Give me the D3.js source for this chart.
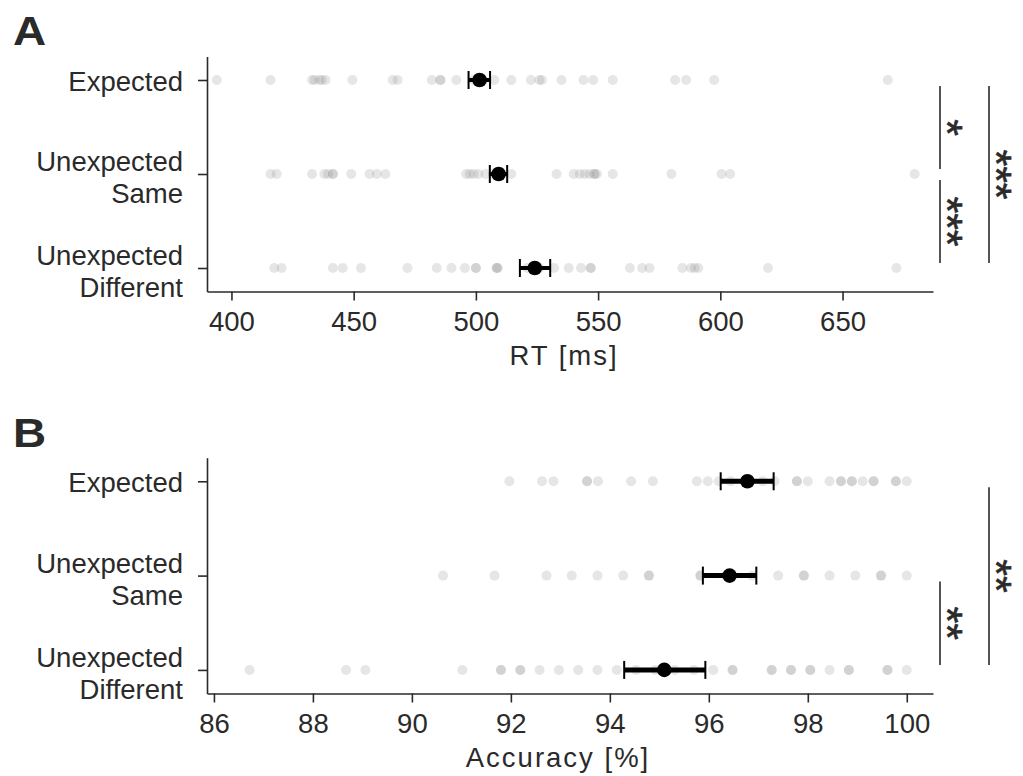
<!DOCTYPE html>
<html>
<head>
<meta charset="utf-8">
<script src="https://cdn.jsdelivr.net/npm/d3@7"></script>
<style>
  html, body { margin: 0; padding: 0; background: #fff; }
  svg { display: block; font-family: "Liberation Sans", Arial, Helvetica, sans-serif; }
</style>
</head>
<body>
<svg id="chart" width="1023" height="776"></svg>
<script>
// ---------------- data ----------------
const categories = [["Expected"], ["Unexpected", "Same"], ["Unexpected", "Different"]];

const rtExpected = [394, 416, 433, 434, 436, 437, 438.5, 449.5, 466, 468, 482, 485.5, 485.5, 492, 499, 503, 507.5, 514.5, 522.5, 526, 527, 535, 544, 548, 556, 581.5, 586, 597.5, 668.5];
const rtSame = [416, 418.5, 433, 438, 439.5, 441.5, 441.5, 449, 456.5, 459.5, 463, 496, 497.5, 499, 501, 504, 507, 514.5, 533, 540, 542.5, 544.5, 546.5, 548.5, 548.5, 549.5, 556, 580, 600.5, 604, 679.5];
const rtDifferent = [417.5, 420.5, 441.5, 445.5, 453, 472, 484, 490, 495.5, 500, 500, 508.5, 508.5, 509, 521, 526, 532, 538, 543, 547, 547, 563, 568, 571, 584.5, 588, 589.5, 591, 619.5, 672];

const rtMean = [501.5, 509.3, 524.1];
const rtLow = [497, 505.7, 518];
const rtHigh = [505.8, 512.8, 530.4];

const accExpected = [91.97, 92.63, 92.86, 93.54, 93.54, 93.76, 94.43, 94.87, 95.76, 95.98, 96.2, 96.44, 97.09, 97.33, 97.78, 97.78, 98.0, 98.44, 98.67, 98.67, 98.89, 98.89, 99.11, 99.33, 99.33, 99.78, 99.78, 100];
const accSame = [90.63, 91.67, 92.72, 93.23, 93.75, 94.27, 94.79, 94.79, 95.83, 95.83, 96.35, 96.88, 97.4, 97.92, 97.92, 98.44, 98.96, 99.48, 99.48, 100];
const accDifferent = [86.72, 88.67, 89.06, 91.02, 91.8, 91.8, 92.19, 92.19, 92.58, 92.97, 93.36, 93.75, 94.14, 94.53, 94.92, 95.31, 95.7, 96.09, 96.48, 96.48, 97.27, 97.27, 97.66, 97.66, 98.05, 98.05, 98.44, 98.83, 98.83, 99.61, 99.61, 100];

const accMean = [96.78, 96.42, 95.1];
const accLow = [96.24, 95.88, 94.29];
const accHigh = [97.31, 96.96, 95.93];

const rtTicks = [400, 450, 500, 550, 600, 650];
const accTicks = [86, 88, 90, 92, 94, 96, 98, 100];

const rtSig = [
  { from: 0, to: 1, label: "*", level: 0 },
  { from: 1, to: 2, label: "***", level: 0 },
  { from: 0, to: 2, label: "***", level: 1 }
];
const accSig = [
  { from: 1, to: 2, label: "**", level: 0 },
  { from: 0, to: 2, label: "**", level: 1 }
];

// ---------------- drawing ----------------
const svg = d3.select("#chart");
const ink = "#2a2a2a";

function panel(cfg) {
  const g = svg.append("g");
  const x = d3.scaleLinear().domain(cfg.xDomain).range([207, 933]);
  const y = d3.scaleLinear().domain([-0.25, 2.25]).range([cfg.top, cfg.bottom]);

  // points
  cfg.series.forEach((vals, i) => {
    g.append("g").selectAll("circle").data(vals).join("circle")
      .attr("cx", d => x(d)).attr("cy", y(i)).attr("r", 5)
      .attr("fill", "#808080").attr("fill-opacity", 0.2);
  });

  // error bars + means
  cfg.mean.forEach((m, i) => {
    const eg = g.append("g");
    eg.append("line").attr("x1", x(cfg.low[i])).attr("x2", x(cfg.high[i]))
      .attr("y1", y(i)).attr("y2", y(i)).attr("stroke", "#000").attr("stroke-width", cfg.barW);
    [cfg.low[i], cfg.high[i]].forEach(v => {
      eg.append("line").attr("x1", x(v)).attr("x2", x(v))
        .attr("y1", y(i) - 9).attr("y2", y(i) + 9).attr("stroke", "#000").attr("stroke-width", 2);
    });
    eg.append("circle").attr("cx", x(m)).attr("cy", y(i)).attr("r", 7.3).attr("fill", "#000");
  });

  // x axis
  const xa = g.append("g").attr("transform", `translate(0,${cfg.bottom})`)
    .call(d3.axisBottom(x).tickValues(cfg.ticks).tickFormat(d3.format("d")).tickSize(9).tickSizeOuter(0).tickPadding(11));
  xa.selectAll("text").attr("font-size", 27.5).attr("fill", ink);

  // y axis
  const ya = g.append("g").attr("transform", "translate(207,0)")
    .call(d3.axisLeft(y).tickValues([0, 1, 2]).tickFormat("").tickSize(9).tickSizeOuter(0));
  [xa, ya].forEach(a => {
    a.select(".domain").attr("stroke", ink).attr("stroke-width", 1.6);
    a.selectAll(".tick line").attr("stroke", ink).attr("stroke-width", 1.6);
    a.attr("font-family", null);
  });
  ya.selectAll(".tick").each(function (d) {
    const lines = categories[d];
    const t = d3.select(this).append("text").attr("fill", ink).attr("font-size", 27.5)
      .attr("text-anchor", "end").attr("x", -24);
    if (lines.length === 1) {
      t.append("tspan").attr("x", -24).attr("y", 10).text(lines[0]);
    } else {
      t.append("tspan").attr("x", -24).attr("y", -3.5).text(lines[0]);
      t.append("tspan").attr("x", -24).attr("y", 28.5).text(lines[1]);
    }
  });

  // x label
  g.append("text").attr("x", cfg.labelX).attr("y", cfg.bottom + 73)
    .attr("text-anchor", "middle").attr("font-size", 27.5).attr("letter-spacing", 2)
    .attr("fill", ink).text(cfg.xlabel);

  // panel letter
  g.append("text").attr("transform", `translate(13,${cfg.letterY}) scale(1.12,1)`)
    .attr("font-size", 41).attr("font-weight", "bold").attr("fill", ink).text(cfg.letter);

  // significance brackets
  cfg.sig.forEach(s => {
    const lx = 940 + s.level * 49;
    const y1 = y(s.from) + 6, y2 = y(s.to) - 5;
    g.append("line").attr("x1", lx).attr("x2", lx).attr("y1", y1).attr("y2", y2)
      .attr("stroke", ink).attr("stroke-width", 1.6);
    const cy = (y1 + y2) / 2;
    g.append("text").attr("transform", `translate(${lx - 7},${cy}) rotate(90)`)
      .attr("text-anchor", "middle")
      .attr("font-size", 43).attr("fill", ink)
      .attr("stroke", ink).attr("stroke-width", 0.6).text(s.label);
  });
}

panel({
  xDomain: [390, 687], top: 56.5, bottom: 291.5,
  series: [rtExpected, rtSame, rtDifferent],
  mean: rtMean, low: rtLow, high: rtHigh, barW: 4,
  ticks: rtTicks, xlabel: "RT [ms]", labelX: 564,
  letter: "A", letterY: 45, sig: rtSig
});

panel({
  xDomain: [85.86, 100.53], top: 457.7, bottom: 693.5,
  series: [accExpected, accSame, accDifferent],
  mean: accMean, low: accLow, high: accHigh, barW: 5,
  ticks: accTicks, xlabel: "Accuracy [%]", labelX: 558,
  letter: "B", letterY: 447, sig: accSig
});
</script>
</body>
</html>
